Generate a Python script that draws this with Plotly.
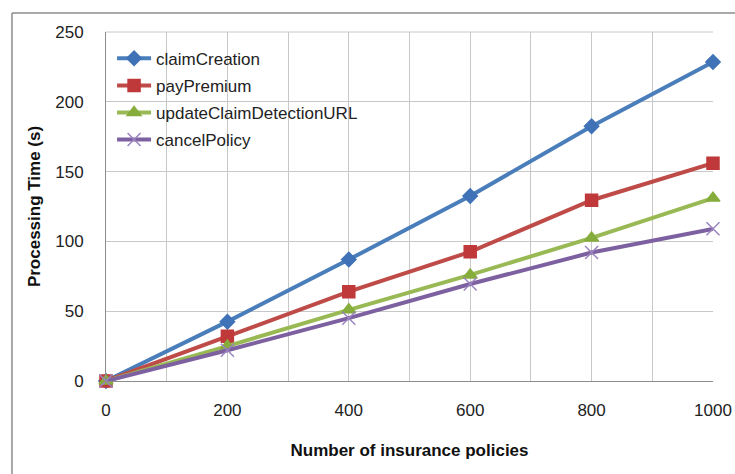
import plotly.graph_objects as go

x_vals = [0, 200, 400, 600, 800, 1000]
claim_creation = [0, 42.5, 87, 132.5, 182.5, 228.5]
pay_premium = [0, 32, 64, 92.5, 129.5, 156]
update_claim = [0, 25, 51, 76, 102.5, 131]
cancel_policy = [0, 22, 45, 69.5, 92, 109]

series = [
    ("claimCreation", claim_creation, "#4a7ebb", "#3f72b6", "diamond", 11),
    ("payPremium", pay_premium, "#be4b48", "#c0393a", "square", 12),
    ("updateClaimDetectionURL", update_claim, "#98b954", "#86ad3c", "triangle-up", 12),
    ("cancelPolicy", cancel_policy, "#7d60a0", "#9a84c0", "x-thin", 13),
]

fig = go.Figure()
for name, ys, lc, mc, sym, ms in series:
    fig.add_trace(go.Scatter(
        x=x_vals, y=ys, name=name, mode="lines+markers", legendgroup=name,
        line=dict(color=lc, width=4),
        marker=dict(symbol=sym, size=ms, color=mc,
                    line=dict(color=mc, width=1.5)),
        cliponaxis=False,
    ))

font_family = "Liberation Sans, Arial, sans-serif"
fig.update_layout(
    width=735, height=474,
    margin=dict(l=106, r=22, t=32, b=93),
    paper_bgcolor="white", plot_bgcolor="white",
    font=dict(family=font_family, size=17, color="#222"),
    showlegend=True,
    legend=dict(x=0.01, y=0.975, xanchor="left", yanchor="top",
                bgcolor="rgba(255,255,255,0)", font=dict(size=17),
                tracegroupgap=2, itemwidth=34),
    xaxis=dict(range=[0, 1000], dtick=200, tick0=0, automargin=False,
               showgrid=True, gridcolor="#c8c8c8", gridwidth=1,
               minor=dict(dtick=100, showgrid=True, gridcolor="#c8c8c8"),
               showline=True, linecolor="#8c8c8c", linewidth=1, mirror=False,
               ticks="outside", ticklen=14, tickcolor="rgba(0,0,0,0)",
               zeroline=False,
               title=dict(text="<b>Number of insurance policies</b>",
                          font=dict(size=17, color="#111"), standoff=24)),
    yaxis=dict(range=[0, 250], dtick=50, tick0=0, automargin=False,
               showgrid=True, gridcolor="#c8c8c8", gridwidth=1,
               showline=True, linecolor="#8c8c8c", linewidth=1,
               ticks="outside", ticklen=18, tickcolor="rgba(0,0,0,0)",
               zeroline=False,
               title=dict(text="<b>Processing Time (s)</b>",
                          font=dict(size=17, color="#111"), standoff=10)),
    shapes=[
        dict(type="line", xref="paper", yref="paper",
             x0=-0.1549, x1=1.06, y0=1.0544, y1=1.0544,
             line=dict(color="#8c8c8c", width=1.5)),
        dict(type="line", xref="paper", yref="paper",
             x0=-0.1549, x1=-0.1549, y0=1.0544, y1=-0.3,
             line=dict(color="#8c8c8c", width=1.5)),
        dict(type="line", xref="paper", yref="paper",
             x0=0, x1=1, y0=1, y1=1, layer="below",
             line=dict(color="#c8c8c8", width=1)),
    ],
)

fig.write_html(
    "out.html",
    config={"displayModeBar": False},
    post_script="document.body.style.margin='0px';document.body.style.overflow='hidden';",
)
